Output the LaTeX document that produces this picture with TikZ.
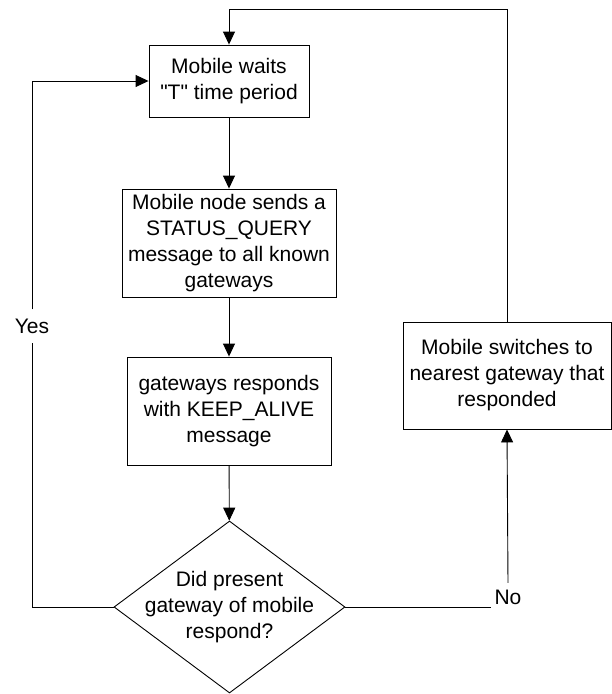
\documentclass[tikz,border=0pt]{standalone}
\usepackage{fontspec}
\setmainfont{Liberation Sans}[Ligatures=TeXOff]
\usetikzlibrary{arrows.meta,shapes.geometric}

\begin{document}
\begin{tikzpicture}[x=1pt,y=-1pt,
  every node/.style={font=\fontsize{21}{26}\selectfont, align=center},
  stepbox/.style={draw, line width=0.9pt, inner sep=0pt},
  decision/.style={draw, line width=0.9pt, diamond, inner sep=0pt,
    minimum width=231pt, minimum height=172pt},
  lbl/.style={fill=white, inner sep=0pt},
  flow/.style={draw, line width=0.9pt},
  arrow/.style={flow, -{Triangle[length=13pt,width=12pt]}}]

  % page frame
  \useasboundingbox (0,0) rectangle (612,694);

  % process boxes
  \node[stepbox, minimum width=160pt, minimum height=72pt] (wait) at (229,81)
    {Mobile waits\\"T" time period};
  \node[stepbox, minimum width=214pt, minimum height=108pt] (query) at (229,243)
    {Mobile node sends a\\STATUS\_QUERY\\message to all known\\gateways};
  \node[stepbox, minimum width=204pt, minimum height=108pt] (alive) at (229,411)
    {gateways responds\\with KEEP\_ALIVE\\message};
  \node[stepbox, minimum width=208pt, minimum height=107pt] (switch) at (507,375.5)
    {Mobile switches to\\nearest gateway that\\responded};

  % decision
  \node[decision] (check) at (229.5,607) {};
  \node at (check.center) {Did present\\gateway of mobile\\respond?};

  % branch labels
  \node[lbl, minimum width=36pt, minimum height=33pt] (yes) at (32,326) {Yes};
  \node[lbl, minimum width=34pt, minimum height=28pt] (no) at (508,597) {No};

  % corner points of the loops
  \coordinate (topright) at (507,9);
  \coordinate (leftbottom) at (32,607);
  \coordinate (lefttop) at (32,81);

  % main flow
  \draw[arrow] (wait) -- (query);
  \draw[arrow] (query) -- (alive);
  \draw[arrow] (alive) -- (check);

  % yes branch back to waiting
  \draw[flow] (check.west) -- (leftbottom) -- (yes.south);
  \draw[arrow] (yes.north) -- (lefttop) -- (wait.west);

  % no branch to switching gateway
  \draw[flow] (check.east) -- (no.west |- check.east);
  \draw[arrow] (no.north) -- (switch.south);

  % after switching, wait again
  \draw[arrow] (switch.north) -- (topright) -| (wait.north);
\end{tikzpicture}
\end{document}
